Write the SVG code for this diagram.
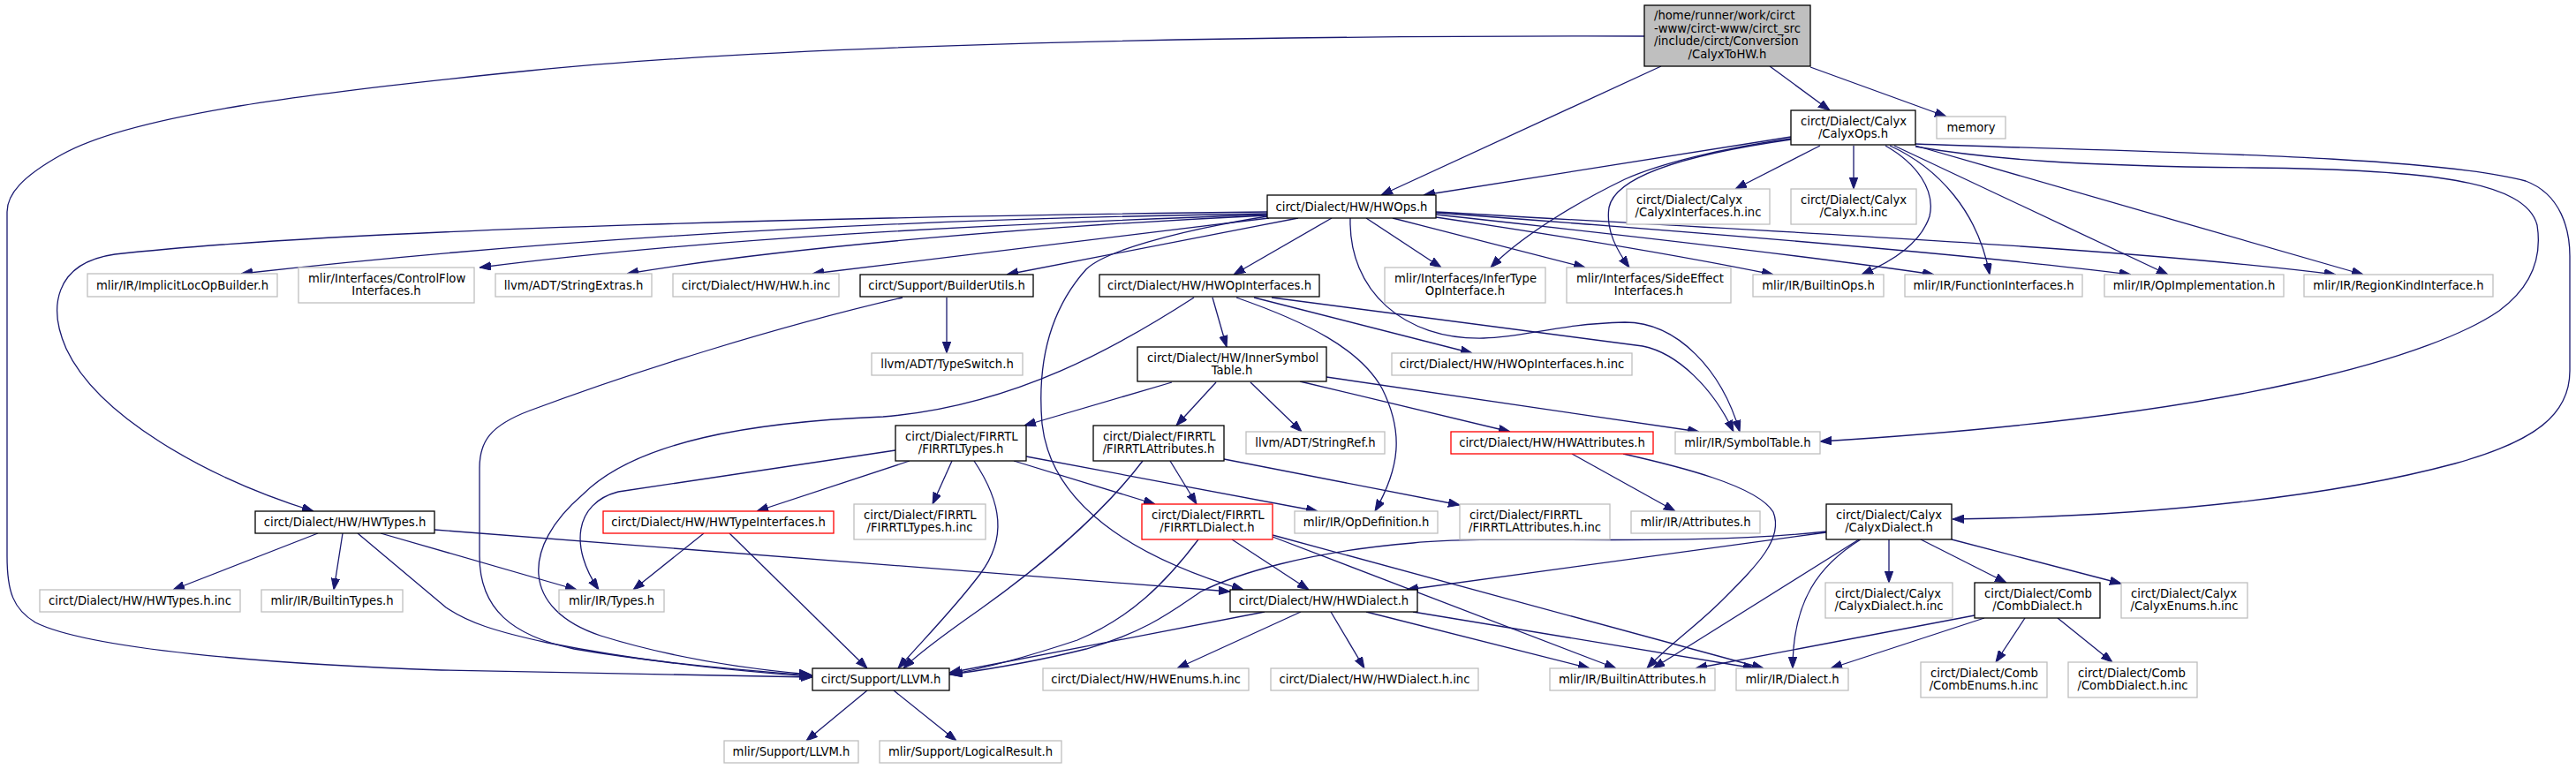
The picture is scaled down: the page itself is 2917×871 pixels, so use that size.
<svg xmlns="http://www.w3.org/2000/svg" width="2917" height="871" viewBox="0 0 2917 871">
<style>
rect{fill:#fff;stroke-width:1.3}
.k rect{stroke:#000}
.g rect{stroke:#bfbfbf}
.r rect{stroke:#f00}
#n_root rect{fill:#bfbfbf}
text{font-family:"DejaVu Sans","Liberation Sans",sans-serif;font-size:13.2px;fill:#000}
.m{text-anchor:middle}
#edges path{fill:none;stroke:#191970;stroke-width:1.3;marker-end:url(#a)}
</style>
<defs>
<marker id="a" markerUnits="userSpaceOnUse" markerWidth="13" markerHeight="10" refX="13" refY="4.7" orient="auto">
<path d="M0,0 L13,4.7 L0,9.4 z" fill="#191970" stroke="#191970" stroke-width="1"/>
</marker>
</defs>
<rect x="0" y="0" width="2917" height="871" style="fill:#fff;stroke:none"/>
<g id="edges">
<path d="M1881,75 L1564,221"/>
<path d="M2004,75 L2072,125"/>
<path d="M2050,76 L2204,132"/>
<path d="M1862,41 C1400,40 900,50 600,80 C350,105 150,130 70,175 C25,200 8,220 8,240 L8,630 C8,670 15,690 40,705 C100,735 300,752 500,759 C700,764 850,766 920,767"/>
<path d="M2028,155 L1612,221"/>
<path d="M2028,157 C1950,168 1880,185 1840,203 C1780,232 1720,270 1688,303"/>
<path d="M2028,158 C1930,172 1830,195 1822,235 C1818,262 1832,285 1845,303"/>
<path d="M2061,165 L1965,214"/>
<path d="M2099,165 L2099,214"/>
<path d="M2135,165 C2170,185 2192,215 2185,245 C2175,275 2145,295 2108,311"/>
<path d="M2140,165 C2195,190 2240,240 2253,311"/>
<path d="M2145,165 L2455,311"/>
<path d="M2169,165 L2676,311"/>
<path d="M2169,166 C2250,180 2350,188 2550,190 C2750,192 2860,205 2873,255 C2880,300 2860,330 2830,352 C2760,400 2550,470 2061,500"/>
<path d="M2169,163 C2400,172 2750,175 2860,205 C2900,220 2910,260 2910,290 L2910,420 C2910,470 2870,500 2780,525 C2650,560 2450,585 2211,588"/>
<path d="M1435,240 C1000,245 400,258 130,288 C60,298 55,350 75,395 C110,470 230,540 355,579"/>
<path d="M1435,242 C1100,247 700,262 273,310"/>
<path d="M1435,243 C1100,255 800,270 543,303"/>
<path d="M1435,244 C1200,255 900,278 710,310"/>
<path d="M1437,247 L920,310"/>
<path d="M1470,247 L1140,311"/>
<path d="M1508,247 L1397,311"/>
<path d="M1435,245 C1330,262 1250,285 1230,305 C1185,355 1175,420 1180,480 C1190,570 1280,630 1408,668"/>
<path d="M1529,247 C1527,330 1590,385 1680,383 C1730,382 1760,367 1840,365 C1900,365 1950,420 1970,489"/>
<path d="M1547,247 L1632,303"/>
<path d="M1577,247 L1795,303"/>
<path d="M1626,246 C1800,272 1930,295 2008,311"/>
<path d="M1626,243 C1800,262 2050,290 2190,311"/>
<path d="M1626,241 C1950,265 2250,290 2413,311"/>
<path d="M1626,240 C2000,262 2400,280 2645,311"/>
<path d="M1373,337 L1389,393"/>
<path d="M1352,337 C1270,390 1150,460 1000,472 C850,478 720,500 660,560 C590,620 590,690 680,720 C760,745 850,758 918,764"/>
<path d="M1420,337 L1667,400"/>
<path d="M1440,337 L1860,392 C1900,400 1940,440 1963,489"/>
<path d="M1400,337 C1480,365 1540,395 1565,440 C1590,490 1585,530 1557,579"/>
<path d="M1327,433 L1160,482"/>
<path d="M1377,433 L1332,482"/>
<path d="M1416,433 L1474,489"/>
<path d="M1472,432 L1710,489"/>
<path d="M1502,427 L1924,489"/>
<path d="M1072,337 L1072,400"/>
<path d="M1022,337 C880,370 720,420 600,465 C555,482 543,500 543,530 L543,630 C543,690 580,720 650,735 C750,752 850,760 920,765"/>
<path d="M360,604 L196,668"/>
<path d="M388,604 L378,668"/>
<path d="M431,604 L653,668"/>
<path d="M492,600 L1393,670"/>
<path d="M405,604 L505,688 C530,705 560,715 620,728 C720,748 830,760 918,766"/>
<path d="M797,604 L717,668"/>
<path d="M826,604 L982,757"/>
<path d="M1014,510 L700,557 C650,570 645,620 678,668"/>
<path d="M1030,522 L857,579"/>
<path d="M1078,522 L1056,571"/>
<path d="M1103,522 C1135,570 1140,610 1110,650 C1080,690 1045,725 1017,757"/>
<path d="M1148,522 L1308,571"/>
<path d="M1162,517 L1492,579"/>
<path d="M1294,522 C1250,580 1180,640 1110,690 C1070,718 1040,740 1023,757"/>
<path d="M1325,522 L1355,571"/>
<path d="M1386,520 L1653,572"/>
<path d="M1357,611 C1320,660 1280,700 1220,725 C1160,745 1110,758 1075,764"/>
<path d="M1395,611 L1482,668"/>
<path d="M1441,608 L1830,757"/>
<path d="M1441,606 L1997,757"/>
<path d="M1432,693 L1075,762"/>
<path d="M1473,693 L1333,757"/>
<path d="M1507,693 L1545,757"/>
<path d="M1547,693 L1800,757"/>
<path d="M1600,693 L1987,757"/>
<path d="M2068,603 L1593,668"/>
<path d="M2068,602 C1900,620 1700,605 1600,615 C1480,625 1400,650 1360,670 C1330,690 1300,715 1230,735 C1170,750 1120,758 1077,764"/>
<path d="M2139,611 L2139,660"/>
<path d="M2175,611 L2272,660"/>
<path d="M2210,611 L2402,661"/>
<path d="M2107,611 C2060,640 2030,680 2030,757"/>
<path d="M2105,611 L1872,757"/>
<path d="M2293,700 L2260,750"/>
<path d="M2330,700 L2392,750"/>
<path d="M2247,700 L2073,757"/>
<path d="M2236,697 L1920,757"/>
<path d="M1780,514 L1897,579"/>
<path d="M1838,514 C1900,528 1990,550 2008,580 C2020,610 1990,640 1950,680 C1920,710 1890,730 1865,757"/>
<path d="M982,782 L913,839"/>
<path d="M1012,782 L1083,839"/>
</g>
<g id="n_root" class="k"><rect x="1862" y="6" width="188" height="69"/><text x="1873" y="22">/home/runner/work/circt</text><text x="1873" y="36.7">-www/circt-www/circt_src</text><text x="1873" y="51.3">/include/circt/Conversion</text><text class="m" x="1956" y="66">/CalyxToHW.h</text></g>
<g id="n_calyxops" class="k"><rect x="2028" y="125" width="141" height="39"/><text x="2039" y="141.5">circt/Dialect/Calyx</text><text class="m" x="2098.5" y="155.5">/CalyxOps.h</text></g>
<g id="n_memory" class="g"><rect x="2193" y="132" width="78" height="25"/><text class="m" x="2232" y="149">memory</text></g>
<g id="n_hwops" class="k"><rect x="1435" y="221" width="191" height="26"/><text class="m" x="1530.5" y="238.5">circt/Dialect/HW/HWOps.h</text></g>
<g id="n_calyxif_inc" class="g"><rect x="1842" y="214" width="162" height="40"/><text x="1853" y="230.7">circt/Dialect/Calyx</text><text class="m" x="1923" y="245">/CalyxInterfaces.h.inc</text></g>
<g id="n_calyx_inc" class="g"><rect x="2028" y="214" width="142" height="40"/><text x="2039" y="230.7">circt/Dialect/Calyx</text><text class="m" x="2099" y="245">/Calyx.h.inc</text></g>
<g id="n_implicitloc" class="g"><rect x="99" y="310" width="215" height="26"/><text class="m" x="206.5" y="327.5">mlir/IR/ImplicitLocOpBuilder.h</text></g>
<g id="n_controlflow" class="g"><rect x="338" y="303" width="199" height="40"/><text x="349" y="319.7">mlir/Interfaces/ControlFlow</text><text class="m" x="437.5" y="334">Interfaces.h</text></g>
<g id="n_stringextras" class="g"><rect x="561" y="310" width="177" height="26"/><text class="m" x="649.5" y="327.5">llvm/ADT/StringExtras.h</text></g>
<g id="n_hw_inc" class="g"><rect x="762" y="310" width="188" height="26"/><text class="m" x="856" y="327.5">circt/Dialect/HW/HW.h.inc</text></g>
<g id="n_builderutils" class="k"><rect x="974" y="311" width="196" height="25"/><text class="m" x="1072" y="328">circt/Support/BuilderUtils.h</text></g>
<g id="n_hwopif" class="k"><rect x="1245" y="311" width="249" height="25"/><text class="m" x="1369.5" y="328">circt/Dialect/HW/HWOpInterfaces.h</text></g>
<g id="n_infertype" class="g"><rect x="1568" y="303" width="182" height="40"/><text x="1579" y="319.7">mlir/Interfaces/InferType</text><text class="m" x="1659" y="334">OpInterface.h</text></g>
<g id="n_sideeffect" class="g"><rect x="1774" y="303" width="186" height="40"/><text x="1785" y="319.7">mlir/Interfaces/SideEffect</text><text class="m" x="1867" y="334">Interfaces.h</text></g>
<g id="n_builtinops" class="g"><rect x="1985" y="311" width="148" height="25"/><text class="m" x="2059" y="328">mlir/IR/BuiltinOps.h</text></g>
<g id="n_funcif" class="g"><rect x="2157" y="311" width="201" height="25"/><text class="m" x="2257.5" y="328">mlir/IR/FunctionInterfaces.h</text></g>
<g id="n_opimpl" class="g"><rect x="2383" y="311" width="203" height="25"/><text class="m" x="2484.5" y="328">mlir/IR/OpImplementation.h</text></g>
<g id="n_regionkind" class="g"><rect x="2609" y="311" width="214" height="25"/><text class="m" x="2716" y="328">mlir/IR/RegionKindInterface.h</text></g>
<g id="n_typeswitch" class="g"><rect x="987" y="400" width="171" height="25"/><text class="m" x="1072.5" y="417">llvm/ADT/TypeSwitch.h</text></g>
<g id="n_innersym" class="k"><rect x="1288" y="393" width="214" height="39"/><text x="1299" y="409.7">circt/Dialect/HW/InnerSymbol</text><text class="m" x="1395" y="424">Table.h</text></g>
<g id="n_hwopif_inc" class="g"><rect x="1576" y="400" width="272" height="25"/><text class="m" x="1712" y="417">circt/Dialect/HW/HWOpInterfaces.h.inc</text></g>
<g id="n_firrtltypes" class="k"><rect x="1014" y="482" width="148" height="40"/><text x="1025" y="498.7">circt/Dialect/FIRRTL</text><text class="m" x="1088" y="513">/FIRRTLTypes.h</text></g>
<g id="n_firrtlattr" class="k"><rect x="1238" y="482" width="148" height="40"/><text x="1249" y="498.7">circt/Dialect/FIRRTL</text><text class="m" x="1312" y="513">/FIRRTLAttributes.h</text></g>
<g id="n_stringref" class="g"><rect x="1411" y="489" width="157" height="25"/><text class="m" x="1489.5" y="506">llvm/ADT/StringRef.h</text></g>
<g id="n_hwattr" class="r"><rect x="1643" y="489" width="229" height="25"/><text class="m" x="1757.5" y="506">circt/Dialect/HW/HWAttributes.h</text></g>
<g id="n_symtab" class="g"><rect x="1897" y="489" width="164" height="25"/><text class="m" x="1979" y="506">mlir/IR/SymbolTable.h</text></g>
<g id="n_hwtypes" class="k"><rect x="289" y="579" width="203" height="25"/><text class="m" x="390.5" y="596">circt/Dialect/HW/HWTypes.h</text></g>
<g id="n_hwtypeif" class="r"><rect x="683" y="579" width="261" height="25"/><text class="m" x="813.5" y="596">circt/Dialect/HW/HWTypeInterfaces.h</text></g>
<g id="n_firrtltypes_inc" class="g"><rect x="967" y="571" width="149" height="40"/><text x="978" y="587.7">circt/Dialect/FIRRTL</text><text class="m" x="1041.5" y="602">/FIRRTLTypes.h.inc</text></g>
<g id="n_firrtldialect" class="r"><rect x="1293" y="571" width="148" height="40"/><text x="1304" y="587.7">circt/Dialect/FIRRTL</text><text class="m" x="1367" y="602">/FIRRTLDialect.h</text></g>
<g id="n_opdef" class="g"><rect x="1466" y="579" width="162" height="25"/><text class="m" x="1547" y="596">mlir/IR/OpDefinition.h</text></g>
<g id="n_firrtlattr_inc" class="g"><rect x="1653" y="571" width="170" height="40"/><text x="1664" y="587.7">circt/Dialect/FIRRTL</text><text class="m" x="1738" y="602">/FIRRTLAttributes.h.inc</text></g>
<g id="n_attributes" class="g"><rect x="1847" y="579" width="146" height="25"/><text class="m" x="1920" y="596">mlir/IR/Attributes.h</text></g>
<g id="n_calyxdialect" class="k"><rect x="2068" y="571" width="142" height="40"/><text x="2079" y="587.7">circt/Dialect/Calyx</text><text class="m" x="2139" y="602">/CalyxDialect.h</text></g>
<g id="n_hwtypes_inc" class="g"><rect x="45" y="668" width="227" height="25"/><text class="m" x="158.5" y="685">circt/Dialect/HW/HWTypes.h.inc</text></g>
<g id="n_builtintypes" class="g"><rect x="296" y="668" width="160" height="25"/><text class="m" x="376" y="685">mlir/IR/BuiltinTypes.h</text></g>
<g id="n_types" class="g"><rect x="633" y="668" width="119" height="25"/><text class="m" x="692.5" y="685">mlir/IR/Types.h</text></g>
<g id="n_hwdialect" class="k"><rect x="1393" y="668" width="212" height="25"/><text class="m" x="1499" y="685">circt/Dialect/HW/HWDialect.h</text></g>
<g id="n_calyxdialect_inc" class="g"><rect x="2067" y="660" width="144" height="40"/><text x="2078" y="676.7">circt/Dialect/Calyx</text><text class="m" x="2139" y="691">/CalyxDialect.h.inc</text></g>
<g id="n_combdialect" class="k"><rect x="2236" y="660" width="142" height="40"/><text x="2247" y="676.7">circt/Dialect/Comb</text><text class="m" x="2307" y="691">/CombDialect.h</text></g>
<g id="n_calyxenums" class="g"><rect x="2402" y="660" width="143" height="40"/><text x="2413" y="676.7">circt/Dialect/Calyx</text><text class="m" x="2473.5" y="691">/CalyxEnums.h.inc</text></g>
<g id="n_llvm" class="k"><rect x="920" y="757" width="155" height="25"/><text class="m" x="997.5" y="774">circt/Support/LLVM.h</text></g>
<g id="n_hwenums" class="g"><rect x="1181" y="757" width="233" height="25"/><text class="m" x="1297.5" y="774">circt/Dialect/HW/HWEnums.h.inc</text></g>
<g id="n_hwdialect_inc" class="g"><rect x="1439" y="757" width="235" height="25"/><text class="m" x="1556.5" y="774">circt/Dialect/HW/HWDialect.h.inc</text></g>
<g id="n_builtinattr" class="g"><rect x="1755" y="757" width="187" height="25"/><text class="m" x="1848.5" y="774">mlir/IR/BuiltinAttributes.h</text></g>
<g id="n_dialect" class="g"><rect x="1966" y="757" width="127" height="25"/><text class="m" x="2029.5" y="774">mlir/IR/Dialect.h</text></g>
<g id="n_combenums" class="g"><rect x="2175" y="750" width="143" height="40"/><text x="2186" y="766.7">circt/Dialect/Comb</text><text class="m" x="2246.5" y="781">/CombEnums.h.inc</text></g>
<g id="n_combdialect_inc" class="g"><rect x="2342" y="750" width="146" height="40"/><text x="2353" y="766.7">circt/Dialect/Comb</text><text class="m" x="2415" y="781">/CombDialect.h.inc</text></g>
<g id="n_mlirllvm" class="g"><rect x="820" y="839" width="152" height="25"/><text class="m" x="896" y="856">mlir/Support/LLVM.h</text></g>
<g id="n_logicalresult" class="g"><rect x="996" y="839" width="206" height="25"/><text class="m" x="1099" y="856">mlir/Support/LogicalResult.h</text></g>
</svg>
